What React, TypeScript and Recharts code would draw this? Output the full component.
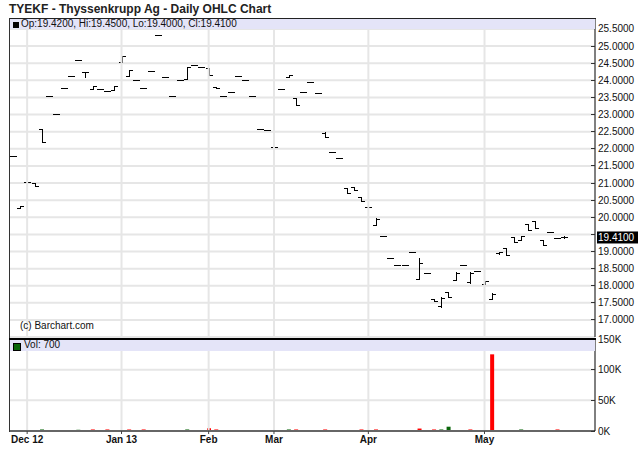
import {
  ComposedChart,
  Bar,
  XAxis,
  YAxis,
  CartesianGrid,
  ReferenceLine,
  Cell,
} from "recharts";

// months shown on the x axis and how many trading bars fall in each
const monthLabels = ["Nov", "Dec 12", "Jan 13", "Feb", "Mar", "Apr", "May"];
const barsPerMonth = [2, 13, 12, 9, 13, 16, 12];

const opens = [
  21.8, 20.28, 21.04, 21.0, 22.57, 23.54, 23.01, 23.77, 24.13, 24.59,
  24.24, 23.75, 23.75, 23.69, 23.72, 24.53, 24.13, 24.0, 23.78, 24.26,
  25.32, 24.1, 23.54, 24.0, 24.03, 24.46, 24.38, 24.36, 23.8, 23.54,
  23.67, 24.13, 24.0, 23.54, 22.58, 22.55, 22.06, 23.75, 24.1, 23.48,
  23.67, 23.94, 23.63, 22.46, 21.9, 21.73, 20.85, 20.88, 20.59, 20.3,
  19.77, 19.46, 18.81, 18.6, 18.6, 19.0, 18.19, 18.37, 17.61, 17.4,
  17.81, 18.18, 18.6, 18.1, 18.42, 18.05, 17.62, 18.96, 19.1, 19.42,
  19.35, 19.8, 19.9, 19.35, 19.57, 19.4, 19.42,
];
const highs = [
  21.8, 20.32, 21.04, 21.0, 22.57, 23.54, 23.01, 23.77, 24.13, 24.59,
  24.24, 23.83, 23.75, 23.69, 23.83, 24.71, 24.3, 24.0, 23.78, 24.26,
  25.32, 24.1, 23.54, 24.0, 24.38, 24.46, 24.38, 24.36, 23.8, 23.54,
  23.67, 24.13, 24.0, 23.54, 22.58, 22.55, 22.06, 23.75, 24.15, 23.48,
  23.67, 23.94, 23.63, 22.49, 21.9, 21.73, 20.85, 20.88, 20.59, 20.3,
  19.97, 19.46, 18.81, 18.6, 18.6, 19.0, 18.8, 18.37, 17.61, 17.66,
  17.81, 18.4, 18.6, 18.4, 18.42, 18.13, 17.8, 19.0, 19.1, 19.42,
  19.45, 19.8, 19.9, 19.35, 19.57, 19.4, 19.45,
];
const lows = [
  21.8, 20.28, 21.04, 20.9, 22.2, 23.54, 23.01, 23.77, 24.13, 24.59,
  24.1, 23.75, 23.75, 23.69, 23.72, 24.53, 24.13, 24.0, 23.78, 24.26,
  25.32, 24.1, 23.54, 24.0, 24.03, 24.46, 24.38, 24.15, 23.77, 23.54,
  23.67, 24.13, 24.0, 23.54, 22.58, 22.55, 22.06, 23.75, 24.1, 23.28,
  23.67, 23.94, 23.63, 22.34, 21.9, 21.73, 20.7, 20.79, 20.47, 20.3,
  19.77, 19.46, 18.81, 18.6, 18.6, 19.0, 18.19, 18.37, 17.55, 17.37,
  17.66, 18.16, 18.6, 18.07, 18.42, 18.04, 17.6, 18.92, 18.9, 19.27,
  19.33, 19.62, 19.68, 19.18, 19.57, 19.4, 19.4,
];
const closes = [
  21.8, 20.32, 21.04, 20.9, 22.2, 23.54, 23.01, 23.77, 24.13, 24.59,
  24.24, 23.83, 23.75, 23.69, 23.83, 24.71, 24.3, 24.0, 23.78, 24.26,
  25.32, 24.1, 23.54, 24.0, 24.38, 24.46, 24.38, 24.15, 23.77, 23.54,
  23.67, 24.13, 24.0, 23.54, 22.58, 22.55, 22.06, 23.75, 24.15, 23.28,
  23.67, 23.94, 23.63, 22.35, 21.9, 21.73, 20.7, 20.79, 20.47, 20.3,
  19.95, 19.46, 18.81, 18.6, 18.6, 19.0, 18.67, 18.37, 17.55, 17.63,
  17.68, 18.38, 18.6, 18.37, 18.42, 18.13, 17.76, 19.0, 18.9, 19.27,
  19.45, 19.62, 19.7, 19.2, 19.57, 19.4, 19.41,
];
const volumes = [
  300, 200, 500, 400, 2500, 300, 200, 400, 300, 2000,
  200, 2500, 300, 2500, 200, 300, 2500, 300, 2500, 200,
  100, 300, 200, 300, 2500, 200, 300, 4500, 2500, 300,
  200, 300, 200, 300, 200, 300, 200, 300, 2500, 2500,
  300, 200, 300, 2500, 300, 200, 300, 200, 2500, 300,
  2500, 300, 200, 300, 200, 300, 4000, 300, 2500, 2500,
  7000, 1200, 300, 2500, 300, 200, 125000, 300, 200, 300,
  2500, 300, 200, 300, 200, 2500, 700,
];

const priceTicks = [
  17, 17.5, 18, 18.5, 19, 19.5, 20, 20.5, 21, 21.5, 22, 22.5, 23, 23.5, 24,
  24.5, 25, 25.5,
];
const volumeTicks = [0, 50000, 100000, 150000];

const FONT = '"Liberation Sans", Arial, Helvetica, sans-serif';
const UP = "#0a660a";
const DOWN = "#ff0000";
const BAND = "#e4e4f8";
const GRID = "#e6e6e6";

const days: string[] = [];
const monthTicks: string[] = [];
monthLabels.forEach((m, mi) => {
  for (let k = 0; k < barsPerMonth[mi]; k++) {
    const key = `${m}|${k}`;
    days.push(key);
    if (k === 0 && mi > 0) monthTicks.push(key);
  }
});

const rows = days.map((day, i) => ({
  day,
  range: [lows[i], highs[i]],
  open: opens[i],
  high: highs[i],
  low: lows[i],
  close: closes[i],
  volume: volumes[i],
  up: i === 0 ? true : closes[i] >= closes[i - 1],
}));

const last = rows.length - 1;
const lastClose = closes[last];

function OhlcShape(props: any) {
  const { x, y, width, height, payload } = props;
  if (x == null || y == null) return null;
  const top = Math.min(y, y + height);
  const bot = Math.max(y, y + height);
  const cx = Math.round(x + width / 2) + 0.5;
  const span = payload.high - payload.low;
  const toY = (p: number) =>
    span > 0 ? top + ((payload.high - p) / span) * (bot - top) : top;
  const yo = Math.round(toY(payload.open)) + 0.5;
  const yc = Math.round(toY(payload.close)) + 0.5;
  return (
    <g stroke="#000" strokeWidth={1} shapeRendering="crispEdges">
      {bot - top > 0.5 && (
        <line x1={cx} x2={cx} y1={Math.round(top)} y2={Math.round(bot) + 1} />
      )}
      <line x1={cx - 3.5} x2={cx} y1={yo} y2={yo} />
      <line x1={cx} x2={cx + 3.5} y1={yc} y2={yc} />
    </g>
  );
}

// small inward tick + label; a label is dropped where the last-price box sits
function AxisTick({ x, y, payload, fmt, skipNear }: any) {
  const hide = skipNear != null && Math.abs(payload.value - skipNear) < 0.25;
  return (
    <g>
      <line
        x1={x - 4}
        x2={x}
        y1={y}
        y2={y}
        stroke="#333"
        shapeRendering="crispEdges"
      />
      {!hide && (
        <text x={x + 3} y={y} dy={3.5} fontSize={10} fill="#111">
          {fmt(payload.value)}
        </text>
      )}
    </g>
  );
}

function LastLabel({ viewBox, text }: any) {
  if (!viewBox) return null;
  const x = viewBox.x + viewBox.width;
  const y = viewBox.y;
  return (
    <g>
      <rect x={x + 2} y={y - 6} width={41} height={12} fill="#000" />
      <text x={x + 3} y={y} dy={3.5} fontSize={10} fill="#fff">
        {text}
      </text>
    </g>
  );
}

export default function App() {
  const legend = `Op:${opens[last].toFixed(4)}, Hi:${highs[last].toFixed(
    4
  )}, Lo:${lows[last].toFixed(4)}, Cl:${lastClose.toFixed(4)}`;

  return (
    <div
      style={{
        position: "fixed",
        left: 0,
        top: 0,
        width: 640,
        height: 468,
        background: "#fff",
        fontFamily: FONT,
        overflow: "hidden",
      }}
    >
      {/* PRICE PANEL */}
      <div style={{ position: "absolute", left: 0, top: 0 }}>
        <ComposedChart
          width={640}
          height={340}
          data={rows}
          margin={{ top: 19, right: 0, bottom: 3, left: 9 }}
        >
          <CartesianGrid stroke={GRID} strokeWidth={2} vertical={false} />
          {monthTicks.map((t) => (
            <ReferenceLine key={t} x={t} stroke={GRID} strokeWidth={2} />
          ))}
          <XAxis
            dataKey="day"
            ticks={monthTicks}
            interval={0}
            height={0}
            tick={false}
            tickLine={false}
            axisLine={false}
            padding={{ left: 0, right: 27 }}
          />
          <YAxis
            orientation="right"
            width={45}
            domain={[16.503, 25.792]}
            ticks={priceTicks}
            interval={0}
            allowDataOverflow
            axisLine={{ stroke: "#000" }}
            tickLine={false}
            tickSize={0}
            tickMargin={0}
            tick={
              <AxisTick
                fmt={(v: number) => v.toFixed(4)}
                skipNear={lastClose}
              />
            }
          />
          <Bar
            dataKey="range"
            shape={(p: any) => <OhlcShape {...p} />}
            isAnimationActive={false}
          />
          <ReferenceLine
            y={lastClose}
            stroke="none"
            label={<LastLabel text={lastClose.toFixed(4)} />}
          />
        </ComposedChart>
      </div>

      {/* VOLUME PANEL */}
      <div style={{ position: "absolute", left: 0, top: 0 }}>
        <ComposedChart
          width={640}
          height={468}
          data={rows}
          margin={{ top: 339, right: 0, bottom: 17, left: 9 }}
        >
          <CartesianGrid stroke={GRID} strokeWidth={2} vertical={false} />
          {monthTicks.map((t) => (
            <ReferenceLine key={t} x={t} stroke={GRID} strokeWidth={2} />
          ))}
          <XAxis
            dataKey="day"
            ticks={monthTicks}
            interval={0}
            height={20}
            tickFormatter={(v: string) => v.split("|")[0]}
            tick={{ fontSize: 10, fontWeight: 700, fill: "#111" }}
            tickLine={{ stroke: "#444" }}
            tickSize={3}
            tickMargin={2}
            axisLine={{ stroke: "#666", strokeWidth: 2 }}
            padding={{ left: 0, right: 27 }}
          />
          <YAxis
            orientation="right"
            width={45}
            domain={[0, 150000]}
            ticks={volumeTicks}
            interval={0}
            allowDataOverflow
            axisLine={{ stroke: "#000" }}
            tickLine={false}
            tickSize={0}
            tickMargin={0}
            tick={<AxisTick fmt={(v: number) => `${v / 1000}K`} />}
          />
          <Bar dataKey="volume" barSize={4} isAnimationActive={false}>
            {rows.map((r, i) => (
              <Cell key={i} fill={r.up ? UP : DOWN} />
            ))}
          </Bar>
        </ComposedChart>
      </div>

      {/* TITLE + FRAME + LEGENDS */}
      <div
        style={{
          position: "absolute",
          left: 9,
          top: 2,
          fontSize: 12,
          fontWeight: 700,
          lineHeight: "14px",
          color: "#222",
          whiteSpace: "nowrap",
        }}
      >
        TYEKF - Thyssenkrupp Ag - Daily OHLC Chart
      </div>

      <div style={{ position: "absolute", left: 9, top: 18, width: 587, height: 1, background: "#222" }} />
      <div style={{ position: "absolute", left: 9, top: 18, width: 1, height: 414, background: "#333" }} />
      <div style={{ position: "absolute", left: 10, top: 19, width: 585, height: 10, background: BAND }} />
      <div style={{ position: "absolute", left: 13, top: 22, width: 6, height: 6, background: "#000" }} />
      <div
        style={{
          position: "absolute",
          left: 21,
          top: 18,
          fontSize: 10,
          lineHeight: "12px",
          color: "#111",
          whiteSpace: "nowrap",
        }}
      >
        {legend}
      </div>

      <div
        style={{
          position: "absolute",
          left: 20,
          top: 320,
          fontSize: 10,
          lineHeight: "12px",
          color: "#111",
          whiteSpace: "nowrap",
        }}
      >
        (c) Barchart.com
      </div>

      <div style={{ position: "absolute", left: 9, top: 338, width: 587, height: 2, background: "#000" }} />
      <div style={{ position: "absolute", left: 10, top: 340, width: 585, height: 11, background: BAND }} />
      <div
        style={{
          position: "absolute",
          left: 13,
          top: 343,
          width: 6,
          height: 6,
          background: UP,
          border: "1px solid #000",
        }}
      />
      <div
        style={{
          position: "absolute",
          left: 24,
          top: 339,
          fontSize: 10,
          lineHeight: "12px",
          color: "#111",
          whiteSpace: "nowrap",
        }}
      >
        Vol: {volumes[last]}
      </div>
    </div>
  );
}
